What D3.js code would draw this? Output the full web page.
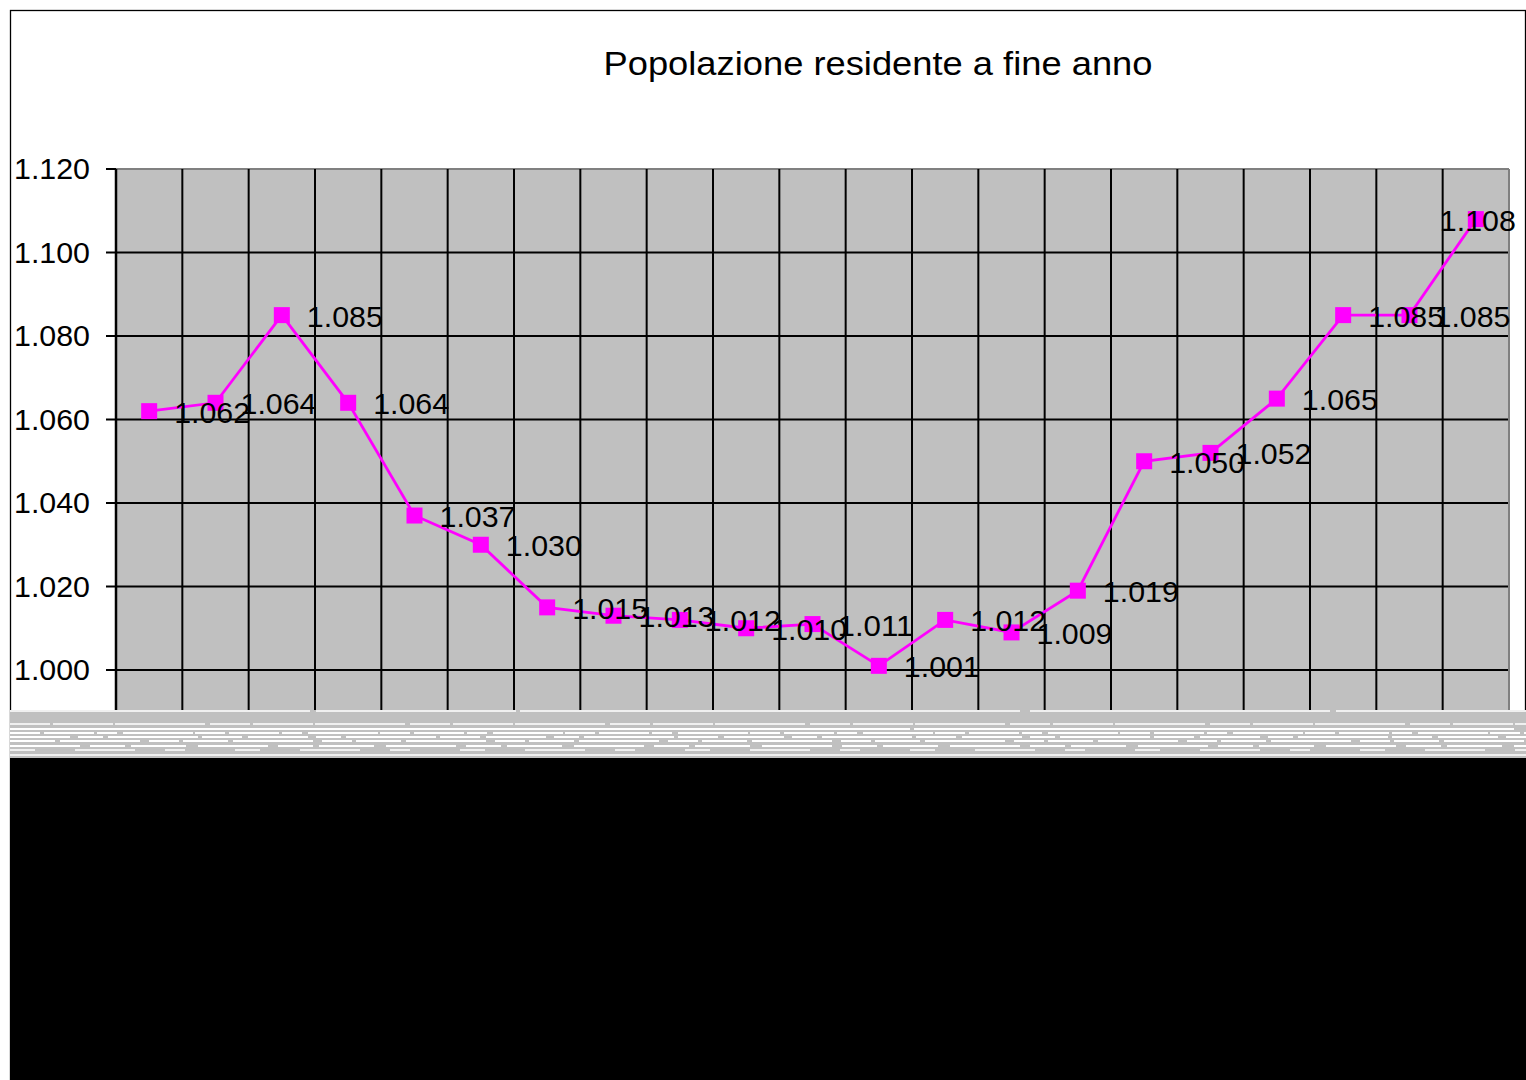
<!doctype html>
<html>
<head>
<meta charset="utf-8">
<title>Popolazione residente</title>
<script src="https://d3js.org/d3.v7.min.js"></script>
<style>
  body { margin: 0; background: #fff; }
  text { font-family: "Liberation Sans", Arial, sans-serif; }
</style>
</head>
<body>
<script>

// data (x-axis labels are lost in the original)
var categories = d3.range(1, 22).map(String);
var popolazione = [1062, 1064, 1085, 1064, 1037, 1030, 1015, 1013, 1012, 1010,
                   1011, 1001, 1012, 1009, 1019, 1050, 1052, 1065, 1085, 1085, 1108];
var yTicks = [1000, 1020, 1040, 1060, 1080, 1100, 1120];
var titolo = 'Popolazione residente a fine anno';

// canvas parameters
var width = 1526, height = 1080;
var plotLeft = 116, plotRight = 1509, plotTop = 169;
var cutY = 710;      // where the picture is damaged
var blackY = 758;
var numWidth = 76;   // text in the original is a bit stretched sideways

var it = d3.formatLocale({decimal: ',', thousands: '.', grouping: [3], currency: ['€', '']});
var fmt = it.format(',d');

var svg = d3.select('body').append('svg')
    .attr('width', width)
    .attr('height', height);

// outer frame
svg.append('rect')
    .attr('x', 10.5).attr('y', 10.5)
    .attr('width', 1515).attr('height', 1080)
    .attr('fill', '#fff')
    .attr('stroke', '#000')
    .attr('stroke-width', 1.3);

var x = d3.scaleBand()
    .domain(categories)
    .range([plotLeft, plotRight]);

var y = d3.scaleLinear()
    .domain([980, 1120])
    .range([753.5, plotTop]);

// plot area
svg.append('rect')
    .attr('x', plotLeft).attr('y', plotTop)
    .attr('width', plotRight - plotLeft).attr('height', cutY - plotTop)
    .attr('fill', '#c0c0c0');

// horizontal gridlines + ticks
svg.append('g').selectAll('line')
    .data(yTicks.slice(0, -1))
    .enter().append('line')
    .attr('x1', plotLeft - 10).attr('x2', plotRight)
    .attr('y1', function (d) { return y(d); })
    .attr('y2', function (d) { return y(d); })
    .attr('stroke', '#000').attr('stroke-width', 2);

// top of plot border (grey) with tick
svg.append('line')
    .attr('x1', plotLeft).attr('x2', plotRight)
    .attr('y1', y(1120)).attr('y2', y(1120))
    .attr('stroke', '#808080').attr('stroke-width', 2);
svg.append('line')
    .attr('x1', plotLeft - 10).attr('x2', plotLeft)
    .attr('y1', y(1120)).attr('y2', y(1120))
    .attr('stroke', '#000').attr('stroke-width', 2);
svg.append('line')
    .attr('x1', plotRight).attr('x2', plotRight)
    .attr('y1', plotTop).attr('y2', cutY)
    .attr('stroke', '#808080').attr('stroke-width', 2);

// vertical gridlines between categories
svg.append('g').selectAll('line')
    .data(categories)
    .enter().append('line')
    .attr('x1', function (d) { return x(d); })
    .attr('x2', function (d) { return x(d); })
    .attr('y1', plotTop).attr('y2', cutY)
    .attr('stroke', '#000')
    .attr('stroke-width', function (d, i) { return i === 0 ? 2.5 : 2; });

// y labels
svg.append('g').selectAll('text')
    .data(yTicks)
    .enter().append('text')
    .attr('x', 90)
    .attr('y', function (d) { return y(d); })
    .attr('dy', '0.36em')
    .attr('text-anchor', 'end')
    .attr('font-size', 29)
    .attr('textLength', numWidth)
    .attr('lengthAdjust', 'spacingAndGlyphs')
    .attr('fill', '#000')
    .text(function (d) { return fmt(d); });

// title
svg.append('text')
    .attr('x', 878).attr('y', 63)
    .attr('dy', '0.36em')
    .attr('text-anchor', 'middle')
    .attr('font-size', 33)
    .attr('textLength', 549)
    .attr('lengthAdjust', 'spacingAndGlyphs')
    .attr('fill', '#000')
    .text(titolo);

// series
var cx = function (d, i) { return x(categories[i]) + x.bandwidth() / 2; };

svg.append('path')
    .datum(popolazione)
    .attr('fill', 'none')
    .attr('stroke', '#ff00ff')
    .attr('stroke-width', 2.8)
    .attr('d', d3.line().x(cx).y(function (d) { return y(d); }));

svg.append('g').selectAll('rect')
    .data(popolazione)
    .enter().append('rect')
    .attr('x', function (d, i) { return cx(d, i) - 8; })
    .attr('y', function (d) { return y(d) - 8; })
    .attr('width', 16).attr('height', 16)
    .attr('fill', '#ff00ff');

// data labels
var last = popolazione.length - 1;
svg.append('g').selectAll('text')
    .data(popolazione)
    .enter().append('text')
    .attr('x', function (d, i) { return i === last ? cx(d, i) - 36 : cx(d, i) + 25; })
    .attr('y', function (d) { return y(d) + 1; })
    .attr('dy', '0.36em')
    .attr('font-size', 29)
    .attr('textLength', numWidth)
    .attr('lengthAdjust', 'spacingAndGlyphs')
    .attr('fill', '#000')
    .text(function (d) { return fmt(d); });

// damaged strip at the bottom of the picture
svg.append('rect')
    .attr('x', 10).attr('y', cutY)
    .attr('width', width - 10).attr('height', blackY - cutY)
    .attr('fill', '#c0c0c0');

var streaks = [
  {y: 711, dash: '300 6 200 4 500 10', w: 1.5},
  {y: 724, dash: '40 3 60 2 90 5', w: 1.5},
  {y: 729, dash: '900 4 600', w: 2},
  {y: 733, dash: '30 4 50 3 20 6 70 2', w: 2},
  {y: 737, dash: '60 8 25 5 90 4 40 6', w: 2},
  {y: 741, dash: '45 5 80 9 30 4', w: 2},
  {y: 746, dash: '70 10 35 6 55 12', w: 2},
  {y: 750, dash: '25 40 60 30 20 50', w: 1.5},
  {y: 755, dash: '1600', w: 1.5}
];
svg.append('g').selectAll('line')
    .data(streaks)
    .enter().append('line')
    .attr('x1', 10).attr('x2', width)
    .attr('y1', function (d) { return d.y; })
    .attr('y2', function (d) { return d.y; })
    .attr('stroke', '#fff')
    .attr('stroke-width', function (d) { return d.w; })
    .attr('stroke-dasharray', function (d) { return d.dash; });

svg.append('rect')
    .attr('x', 10).attr('y', blackY)
    .attr('width', width - 10).attr('height', height - blackY)
    .attr('fill', '#000');

</script>
</body>
</html>
